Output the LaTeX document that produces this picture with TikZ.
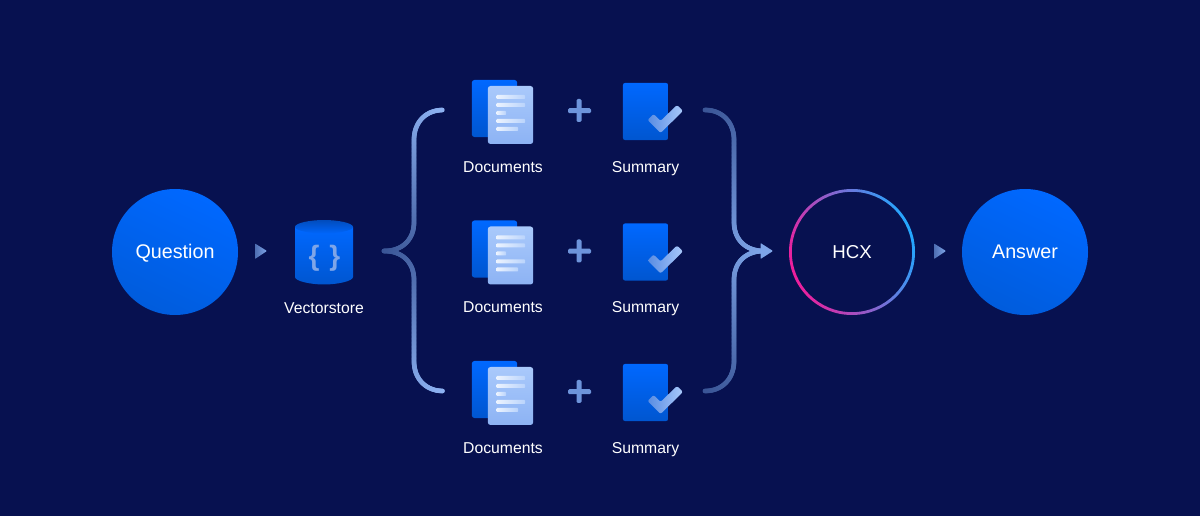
\documentclass[tikz,border=0pt]{standalone}
\usepackage{fontspec}
\setmainfont{Liberation Sans}
\usetikzlibrary{positioning,decorations.markings}

\definecolor{bgnavy}{HTML}{071150}
\definecolor{blueA}{HTML}{0068FF}
\definecolor{blueB}{HTML}{0056D0}
\definecolor{ballB}{HTML}{005CDC}
\definecolor{linkdark}{HTML}{3A5596}
\definecolor{linkglow}{HTML}{8DB2F2}
\definecolor{linkend}{HTML}{7EA5E8}
\definecolor{markblue}{HTML}{6D94DB}
\definecolor{pagetop}{HTML}{A9C9FB}
\definecolor{pagelow}{HTML}{8DB3F4}
\definecolor{ringpink}{HTML}{EE1E9C}
\definecolor{ringviolet}{HTML}{8F5FE6}
\definecolor{ringblue}{HTML}{22A8FF}

\tikzset{every picture/.style={line width=0.75pt}}
\tikzset{
  blueball/.style={circle,minimum size=94.5pt,inner sep=0pt,top color=blueA,bottom color=ballB,shading angle=-25,text=white,text height=9.5pt,text depth=0pt,font=\fontsize{14.8}{16}\selectfont},
  caption/.style={anchor=base,text=white,font=\fontsize{11.8}{14}\selectfont,inner sep=0pt},
  fadelink/.style 2 args={decoration={markings,mark=between positions 0 and 1 step 0.6pt with {
      \pgfmathsetmacro\pct{min(100,100*\pgfkeysvalueof{/pgf/decoration/mark info/distance from start}/\pgfdecoratedpathlength)}
      \fill [#2!\pct!#1] (0,0) circle (1.8pt);}},postaction={decorate}},
  tipmark/.style={left color=linkdark!60!markblue,right color=linkend,rounded corners=0.5pt},
  docback/.style={rectangle,rounded corners=2pt,minimum width=34pt,minimum height=42.8pt,inner sep=0pt,top color=blueA,bottom color=blueB},
  docfront/.style={rectangle,rounded corners=2pt,minimum width=34pt,minimum height=43.5pt,inner sep=0pt,top color=pagetop,bottom color=pagelow},
  docline/.style={left color=white!78!pagetop,right color=white!20!pagetop,rounded corners=0.5pt},
  tickbox/.style={rectangle,rounded corners=1.5pt,minimum width=33.8pt,minimum height=42.8pt,inner sep=0pt,top color=blueA,bottom color=blueB},
}

\begin{document}
\begin{tikzpicture}[x=0.75pt,y=0.75pt,yscale=-1,xscale=1]
\fill [bgnavy] (0,0) rectangle (1200,516);
\useasboundingbox (0,0) rectangle (1200,516);

% Question, store
\node [blueball] (question) at (175,252) {Question};
\path [tipmark] (255,243.5) -- (267,251) -- (255,259) -- cycle;

\path [top color=blueA,bottom color=blueB] (295,227) -- (295,277) .. controls (295,281) and (310,284.5) .. (324,284.5) .. controls (338,284.5) and (353,281) .. (353,277) -- (353,227) -- cycle;
\path [top color=blueB!85!bgnavy,bottom color=blueA!90!blueB] (295,227) .. controls (295,223) and (310,220) .. (324,220) .. controls (338,220) and (353,223) .. (353,227) .. controls (353,230.5) and (338,233.5) .. (324,233.5) .. controls (310,233.5) and (295,230.5) .. (295,227) -- cycle;
\node [text=linkend,inner sep=0pt,font=\fontsize{21}{23}\selectfont\bfseries] (storemark) at (324.5,258.5) {\{\hspace{7.5pt}\}};
\node [caption] (store) at (324,314) {Vectorstore};

% Documents + Summary rows
\foreach \row/\dy in {1/0,2/140.5,3/281}{
  \begin{scope}[shift={(0,\dy)}]
    \node [docback] (docsback\row) at (494.5,108.5) {};
    \node [docfront] (docsfront\row) at (510.5,115) {};
    \path [docline] (496.5,95) rectangle (525,99);
    \path [docline] (496.5,103) rectangle (525,107);
    \path [docline] (496.5,111) rectangle (506,115);
    \path [docline] (496.5,119) rectangle (525,123);
    \path [docline] (496.5,127) rectangle (518,131);
    \node [caption] (docs\row) at (503,172.5) {Documents};
    \fill [markblue,rounded corners=1pt] (568,108.2) rectangle (591,113.2);
    \fill [markblue,rounded corners=1pt] (576.5,99) rectangle (581.5,122);
    \node [tickbox] (summary\row) at (645.5,111.5) {};
    \path [left color=markblue!80!blueA,right color=pagetop,rounded corners=1.5pt] (647.5,120) -- (660.5,133) -- (683,111) -- (677,105) -- (660.5,121) -- (653.5,114) -- cycle;
    \node [caption] (sum\row) at (645.5,172.5) {Summary};
  \end{scope}
}

% brace on the left
\coordinate (splitL) at (384,251);
\coordinate (topL) at (443,110);
\coordinate (botL) at (443,391);
\path [fadelink={linkdark}{linkglow}] (splitL) .. controls (402,251) and (414,240) .. (414,222) -- (414,140) .. controls (414,122) and (426,110) .. (topL);
\path [fadelink={linkdark}{linkglow}] (splitL) .. controls (402,251) and (414,262) .. (414,280) -- (414,361) .. controls (414,379) and (426,391) .. (botL);

% brace on the right
\coordinate (topR) at (705,110);
\coordinate (botR) at (705,391);
\coordinate (joinR) at (764,251);
\path [fadelink={linkdark}{linkend}] (topR) .. controls (722,110) and (734,122) .. (734,140) -- (734,222) .. controls (734,240) and (746,251) .. (joinR);
\path [fadelink={linkdark}{linkend}] (botR) .. controls (722,391) and (734,379) .. (734,361) -- (734,280) .. controls (734,262) and (746,251) .. (joinR);
\fill [linkend,rounded corners=0.5pt] (760.5,243) -- (773,251) -- (760.5,259) -- cycle;

% HCX, Answer
\node [circle,minimum size=94.5pt,inner sep=0pt,text=white,text height=9.5pt,text depth=0pt,font=\fontsize{14}{16}\selectfont] (hcx) at (852,252) {HCX};
\path [even odd rule,left color=ringpink,middle color=ringviolet,right color=ringblue,shading angle=110] (hcx.center) circle (63) (hcx.center) circle (60.2);
\path [tipmark] (934,243.5) -- (946,251) -- (934,259) -- cycle;
\node [blueball] (answer) at (1025,252) {Answer};
\end{tikzpicture}
\end{document}
